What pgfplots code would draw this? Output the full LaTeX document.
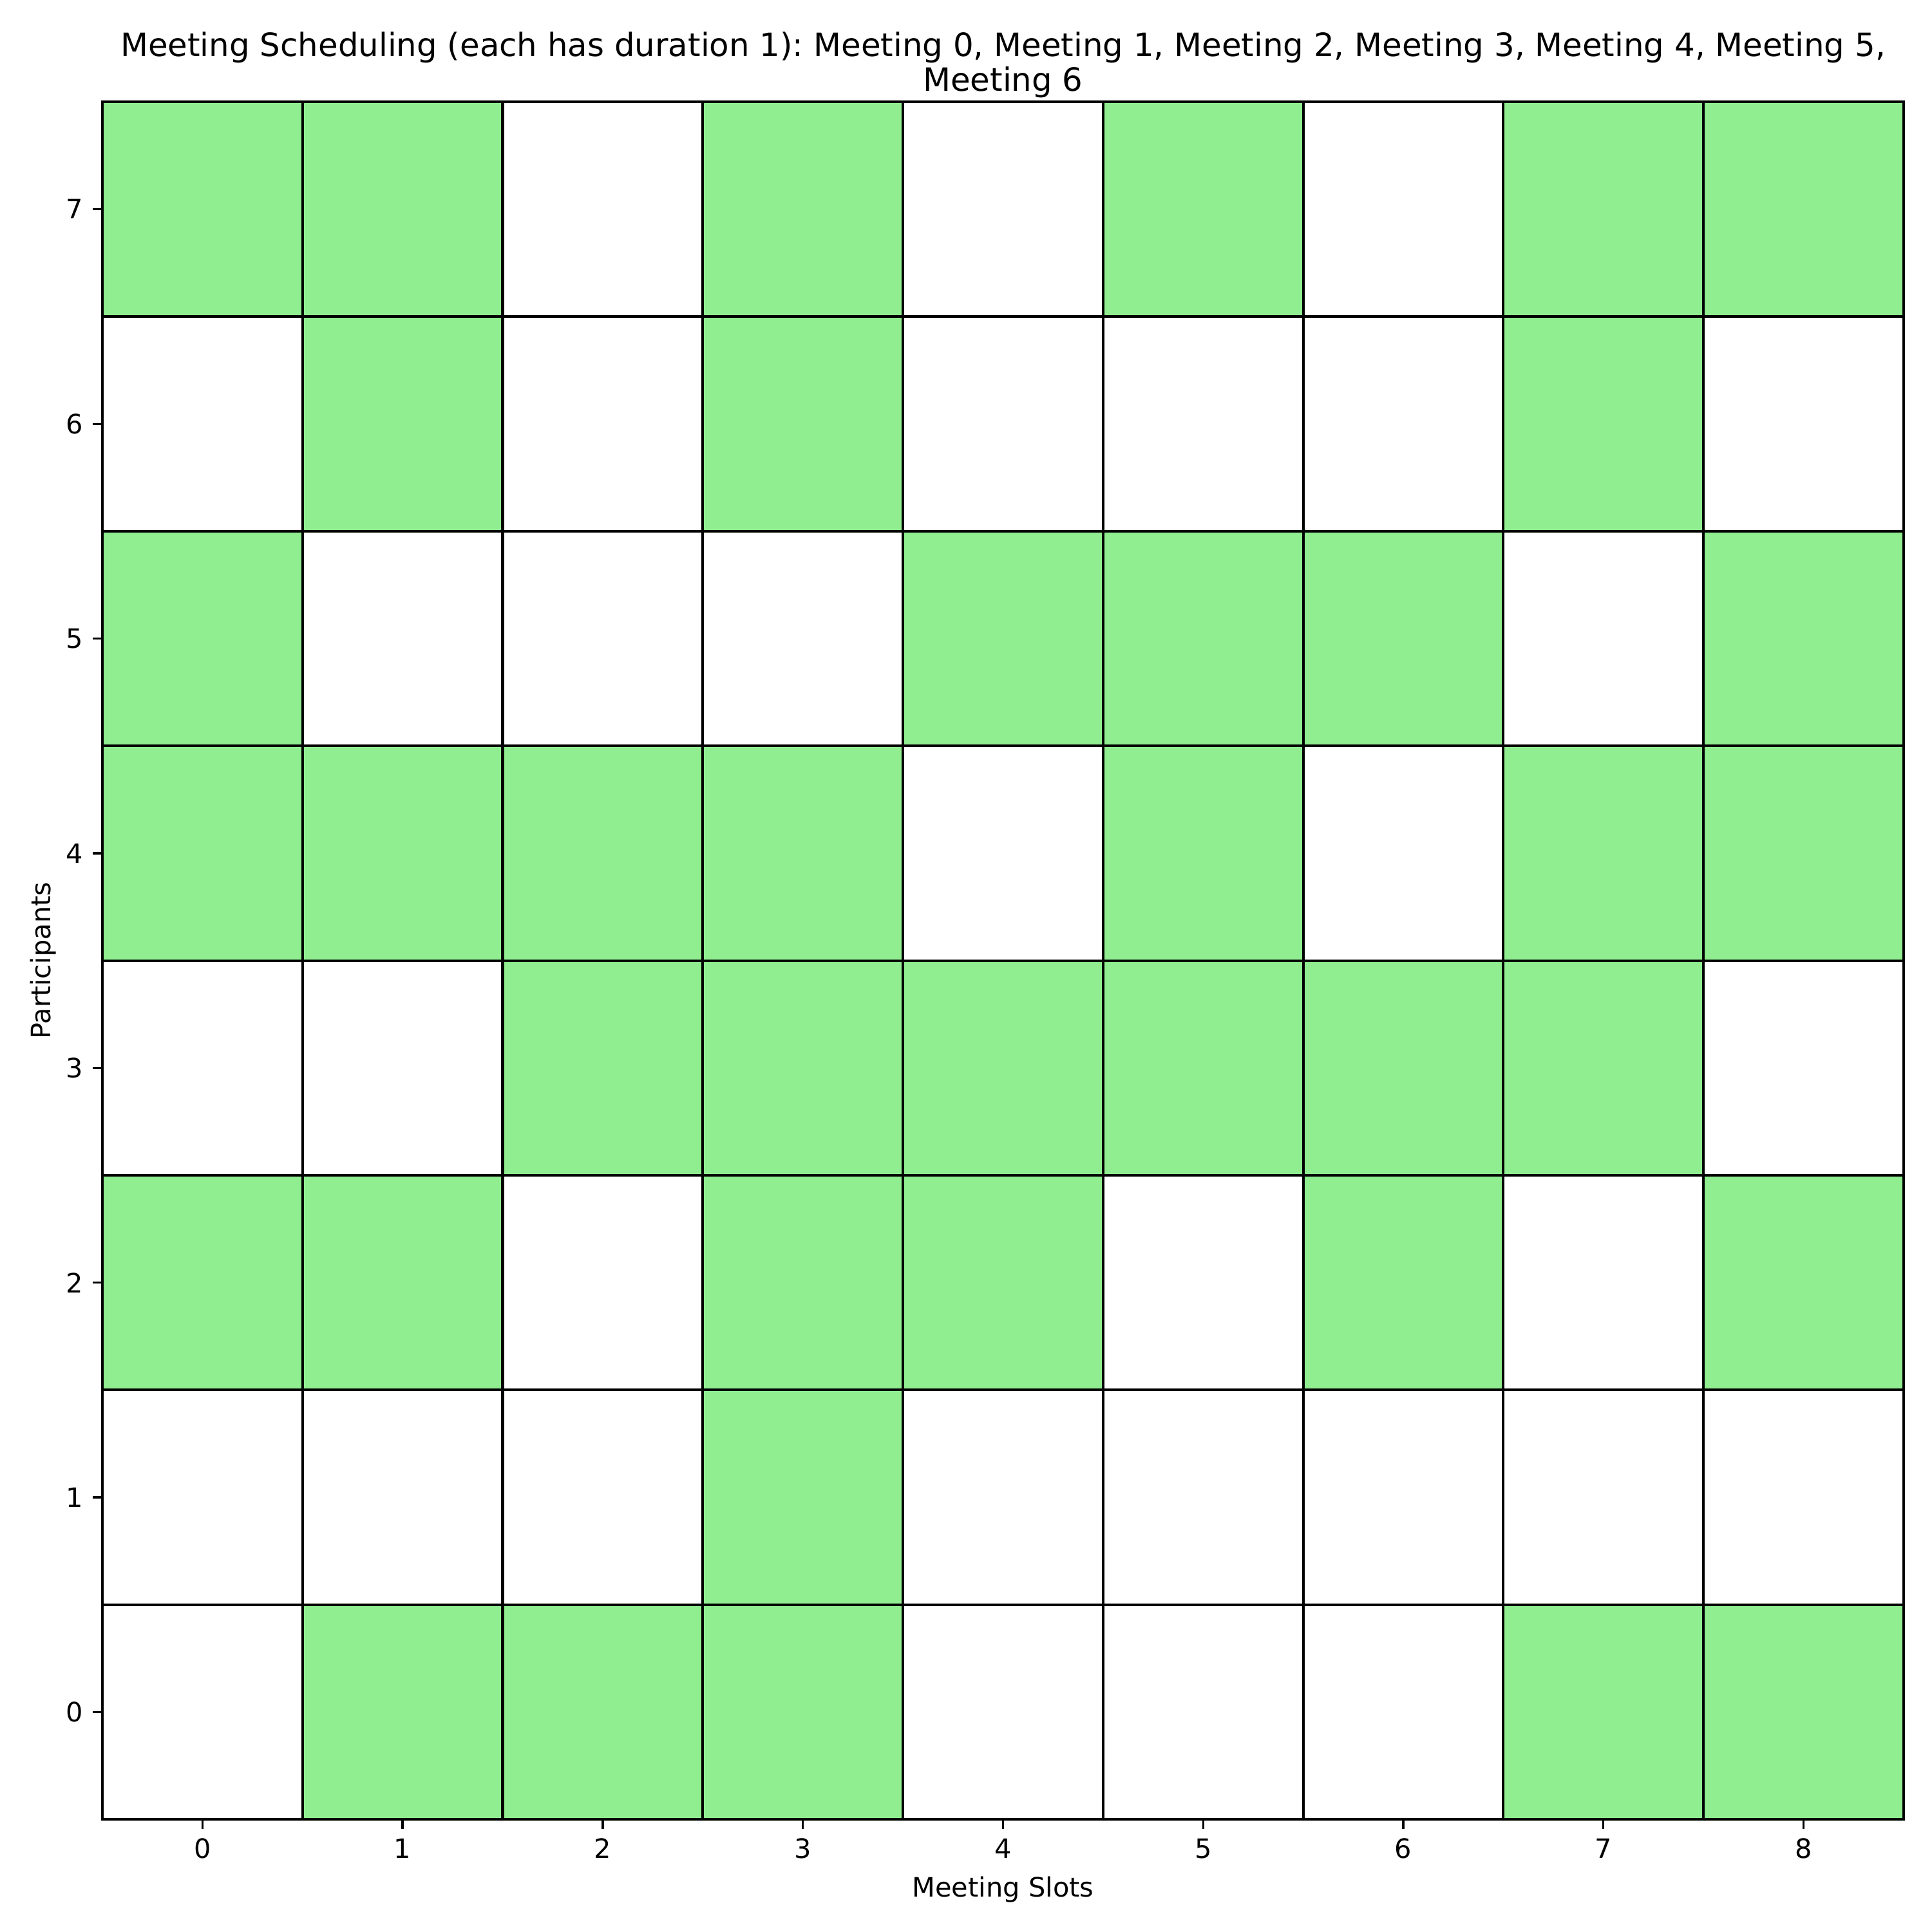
\documentclass[border=0pt]{standalone}
\usepackage{fontspec}
\setmainfont{DejaVu Sans}
\usepackage{pgfplots}
\pgfplotsset{compat=1.18}
\frenchspacing

\definecolor{lightgreen}{RGB}{144,238,144}

% slot availability: x = slot, y = participant, c = 1 if free
\pgfplotstableread{
x y c
0 0 0
1 0 1
2 0 1
3 0 1
4 0 0
5 0 0
6 0 0
7 0 1
8 0 1
0 1 0
1 1 0
2 1 0
3 1 1
4 1 0
5 1 0
6 1 0
7 1 0
8 1 0
0 2 1
1 2 1
2 2 0
3 2 1
4 2 1
5 2 0
6 2 1
7 2 0
8 2 1
0 3 0
1 3 0
2 3 1
3 3 1
4 3 1
5 3 1
6 3 1
7 3 1
8 3 0
0 4 1
1 4 1
2 4 1
3 4 1
4 4 0
5 4 1
6 4 0
7 4 1
8 4 1
0 5 1
1 5 0
2 5 0
3 5 0
4 5 1
5 5 1
6 5 1
7 5 0
8 5 1
0 6 0
1 6 1
2 6 0
3 6 1
4 6 0
5 6 0
6 6 0
7 6 1
8 6 0
0 7 1
1 7 1
2 7 0
3 7 1
4 7 0
5 7 1
6 7 0
7 7 1
8 7 1
}\slots

\begin{document}
\begin{tikzpicture}
\useasboundingbox (-0.53in,-0.583in) rectangle (9.47in,9.417in);
\begin{axis}[
    scale only axis,
    width=9.323in, height=8.89in,
    xmin=-0.5, xmax=8.5, ymin=-0.5, ymax=7.5,
    xtick={0,...,8}, ytick={0,...,7},
    minor xtick={-0.5,0.5,...,8.5}, minor ytick={-0.5,0.5,...,7.5},
    minor tick length=0pt,
    grid=minor, minor grid style={black, line width=1pt},
    xtick pos=bottom, ytick pos=left,
    tick align=outside,
    major tick length=3.5pt,
    major tick style={black, line width=0.8pt},
    axis line style={line width=1pt},
    axis on top,
    clip=false,
    /pgf/number format/assume math mode=true,
    tick label style={font=\fontsize{10}{12}\selectfont},
    xticklabel style={inner sep=0pt, yshift=-3.5pt},
    yticklabel style={inner sep=0pt, xshift=-3.5pt},
    xlabel={Meeting Slots},
    ylabel={Participants},
    label style={font=\fontsize{10}{12}\selectfont},
    every axis x label/.style={at={(axis description cs:0.5,-0.0453)}, anchor=base},
    every axis y label/.style={at={(axis description cs:-0.0289,0.5)}, rotate=90, anchor=base},
    colormap={wg}{rgb255=(255,255,255) rgb255=(144,238,144)},
    point meta min=0, point meta max=1,
  ]
  \addplot[matrix plot*, mesh/cols=9, mesh/rows=8, point meta=explicit] table[meta=c] {\slots};
  \node[anchor=base, font=\fontsize{12}{14}\selectfont]
    at (axis description cs:0.5,1.0266)
    {Meeting Scheduling (each has duration 1): Meeting 0, Meeting 1, Meeting 2, Meeting 3, Meeting 4, Meeting 5,};
  \node[anchor=base, font=\fontsize{12}{14}\selectfont]
    at (axis description cs:0.5,1.0061) {Meeting 6};
\end{axis}
\end{tikzpicture}
\end{document}
